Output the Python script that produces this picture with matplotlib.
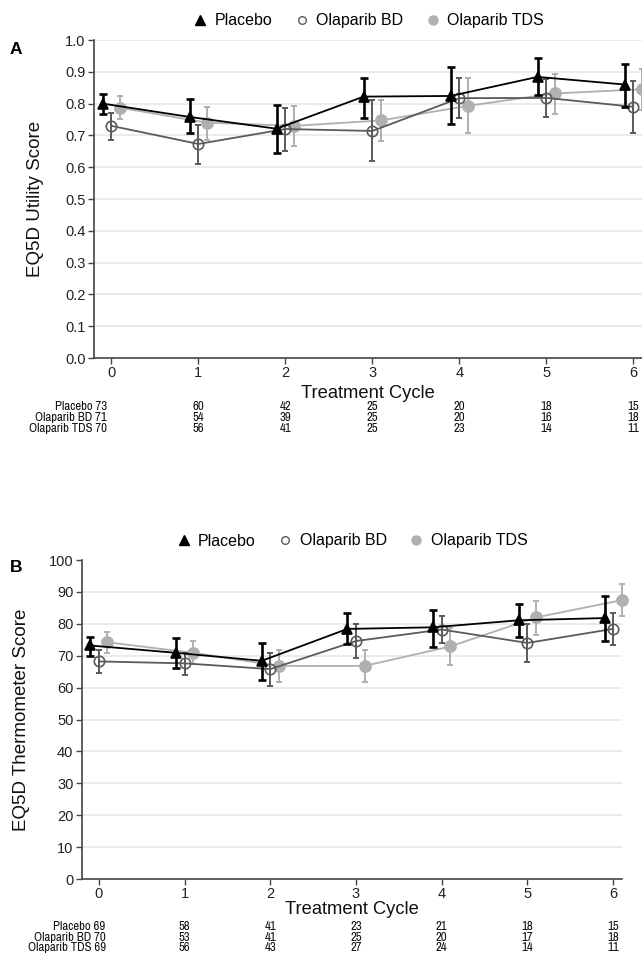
import matplotlib
matplotlib.use("Agg")
import matplotlib.pyplot as plt
from matplotlib.lines import Line2D
from matplotlib.transforms import blended_transform_factory
from matplotlib import font_manager

plt.rcParams['font.family'] = ['Liberation Sans', 'DejaVu Sans']

# fuente estrecha para la tabla, si existe
narrow = [f.name for f in font_manager.fontManager.ttflist if "Narrow" in f.name]
table_family = [narrow[0], 'Liberation Sans'] if narrow else ['Liberation Sans']

# --- datos ---
cycles = [0, 1, 2, 3, 4, 5, 6]
groups = ["Placebo", "Olaparib BD", "Olaparib TDS"]

# Panel A: EQ5D utility
placebo_a = [0.800, 0.758, 0.721, 0.822, 0.824, 0.884, 0.860]
placebo_a_lo = [0.767, 0.706, 0.644, 0.756, 0.735, 0.828, 0.790]
placebo_a_hi = [0.830, 0.814, 0.795, 0.882, 0.914, 0.943, 0.926]
bd_a = [0.730, 0.673, 0.720, 0.714, 0.817, 0.818, 0.790]
bd_a_lo = [0.687, 0.610, 0.650, 0.619, 0.756, 0.759, 0.708]
bd_a_hi = [0.772, 0.733, 0.786, 0.810, 0.879, 0.877, 0.872]
tds_a = [0.787, 0.740, 0.730, 0.747, 0.793, 0.832, 0.845]
tds_a_lo = [0.750, 0.687, 0.668, 0.682, 0.708, 0.768, 0.780]
tds_a_hi = [0.825, 0.788, 0.793, 0.810, 0.879, 0.894, 0.910]
n_placebo_a = [73, 60, 42, 25, 20, 18, 15]
n_bd_a = [71, 54, 39, 25, 20, 16, 18]
n_tds_a = [70, 56, 41, 25, 23, 14, 11]

# Panel B: EQ5D thermometer
placebo_b = [73.2, 70.9, 68.4, 78.4, 78.9, 81.1, 81.8]
placebo_b_lo = [70.0, 66.3, 62.3, 73.7, 72.8, 75.8, 74.7]
placebo_b_hi = [75.9, 75.6, 74.0, 83.4, 84.4, 86.1, 88.6]
bd_b = [68.2, 67.6, 65.8, 74.6, 78.2, 74.0, 78.4]
bd_b_lo = [64.7, 64.0, 60.5, 69.3, 73.9, 67.9, 73.4]
bd_b_hi = [71.8, 71.0, 70.7, 80.0, 82.4, 80.0, 83.5]
tds_b = [74.2, 70.9, 66.8, 66.8, 72.9, 82.0, 87.4]
tds_b_lo = [70.7, 67.4, 61.8, 61.6, 67.1, 76.5, 82.3]
tds_b_hi = [77.4, 74.6, 71.9, 71.8, 78.6, 87.0, 92.6]
n_placebo_b = [69, 58, 41, 23, 21, 18, 15]
n_bd_b = [70, 53, 41, 25, 20, 17, 18]
n_tds_b = [69, 56, 43, 27, 24, 14, 11]

# --- estilos ---
H = 955.0
c_pl, c_bd, c_tds = "black", "#5a5a5a", "#b0b0b0"
styles = {
    "Placebo": dict(color=c_pl, marker="^", ms=7.5, mfc=c_pl, mec=c_pl,
                    elw=1.9, cap=3.0, off=-0.1, z=5),
    "Olaparib BD": dict(color=c_bd, marker="o", ms=7.5, mfc="none", mec=c_bd,
                        elw=1.4, cap=2.5, off=0.0, z=4),
    "Olaparib TDS": dict(color=c_tds, marker="o", ms=8, mfc=c_tds, mec=c_tds,
                         elw=1.4, cap=2.5, off=0.1, z=3),
}

fig = plt.figure(figsize=(6.42, 9.55), dpi=100)


def panel(rect, series, counts, ylim, yticks, yfmt, ylabel, letter,
          letter_y, ylab_x, row_y, first_x, xlab_pad, grid_top=True):
    ax = fig.add_axes(rect)
    for name in ["Olaparib TDS", "Olaparib BD", "Placebo"]:
        st = styles[name]
        m, lo, hi = series[name]
        xs = [c + st["off"] for c in cycles]
        err = [[a - b for a, b in zip(m, lo)], [b - a for a, b in zip(m, hi)]]
        ax.errorbar(xs, m, yerr=err, fmt="none", ecolor=st["color"],
                    elinewidth=st["elw"], capsize=st["cap"],
                    capthick=st["elw"], zorder=st["z"], clip_on=False)
        ax.plot(xs, m, color=st["color"], lw=1.3, marker=st["marker"],
                ms=st["ms"], mfc=st["mfc"], mec=st["mec"], mew=1.2,
                zorder=st["z"] + 0.5, clip_on=False)

    ax.set_xlim(-0.2, 6.1)
    ax.set_ylim(*ylim)
    ax.set_xticks(cycles)
    ax.set_yticks(yticks)
    ax.set_yticklabels([yfmt.format(v) for v in yticks])
    for v in yticks[1:]:
        if v == yticks[-1] and not grid_top:
            continue
        ax.axhline(v, color="#ebebeb", lw=1.4, zorder=0)
    for s in ["top", "right"]:
        ax.spines[s].set_visible(False)
    for s in ["left", "bottom"]:
        ax.spines[s].set_color("#444444")
        ax.spines[s].set_linewidth(1.2)
    ax.tick_params(axis="both", colors="#444444", labelcolor="#222222",
                   labelsize=10.5, length=4.5, width=1.0, pad=1.5)
    ax.set_xlabel("Treatment Cycle", fontsize=13.2, labelpad=xlab_pad,
                  color="#111111")

    fig.text(ylab_x / 642.0, rect[1] + rect[3] / 2, ylabel, rotation=90,
             ha="center", va="center", fontsize=13.5, color="#111111")
    fig.text(16 / 642.0, 1 - letter_y / H, letter, ha="center", va="center",
             fontsize=12.5, fontweight="bold")

    handles = [Line2D([], [], ls="none", marker=styles[g]["marker"],
                      color=styles[g]["color"], mfc=styles[g]["mfc"],
                      mec=styles[g]["mec"],
                      ms={"Placebo": 7, "Olaparib BD": 5.5,
                          "Olaparib TDS": 6.5}[g], mew=1.0) for g in groups]
    ax.legend(handles, groups, loc="center", ncol=3, frameon=False,
              bbox_to_anchor=(0.5, 1 + 19.0 / (rect[3] * H)),
              fontsize=11.5, handlelength=1.0, handletextpad=0.4,
              columnspacing=1.35, borderaxespad=0, borderpad=0)

    tr = blended_transform_factory(ax.transData, fig.transFigure)
    for name, yy in zip(groups, row_y):
        n = counts[name]
        ax.text(first_x, 1 - yy / H, f"{name} {n[0]}", ha="right",
                va="center", fontsize=9.2, transform=tr, color="#111111",
                family=table_family)
        for c, v in zip(cycles[1:], n[1:]):
            ax.text(c, 1 - yy / H, str(v), ha="center", va="center",
                    fontsize=9.2, transform=tr, color="#111111",
                    family=table_family)
    return ax


panel([94 / 642.0, 1 - 358 / H, 548 / 642.0, 318 / H],
      {"Placebo": (placebo_a, placebo_a_lo, placebo_a_hi),
       "Olaparib BD": (bd_a, bd_a_lo, bd_a_hi),
       "Olaparib TDS": (tds_a, tds_a_lo, tds_a_hi)},
      {"Placebo": n_placebo_a, "Olaparib BD": n_bd_a, "Olaparib TDS": n_tds_a},
      (0, 1.0), [round(0.1 * i, 1) for i in range(11)], "{:.1f}",
      "EQ5D Utility Score", "A", 50, 36, [407, 417.5, 428], -0.05, 3)

panel([81.7 / 642.0, 1 - 879 / H, 540 / 642.0, 319 / H],
      {"Placebo": (placebo_b, placebo_b_lo, placebo_b_hi),
       "Olaparib BD": (bd_b, bd_b_lo, bd_b_hi),
       "Olaparib TDS": (tds_b, tds_b_lo, tds_b_hi)},
      {"Placebo": n_placebo_b, "Olaparib BD": n_bd_b, "Olaparib TDS": n_tds_b},
      (0, 100), list(range(0, 101, 10)), "{:d}",
      "EQ5D Thermometer Score", "B", 567, 22, [926.5, 937, 947], 0.08, -0.5,
      grid_top=False)

fig.savefig("out.png", dpi=100)
